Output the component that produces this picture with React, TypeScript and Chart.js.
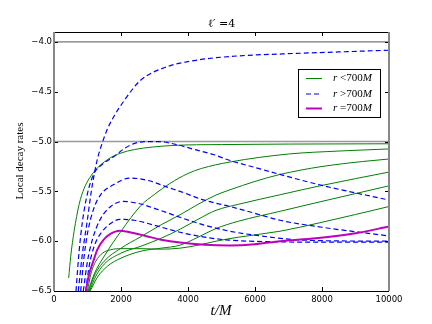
import React, { useEffect, useRef } from "react";
import { Chart, registerables } from "chart.js";

Chart.register(...registerables);

// ---- data ----
const xTicks = [0, 2000, 4000, 6000, 8000, 10000];
const yTicks = [-6.5, -6.0, -5.5, -5.0, -4.5, -4.0];
const refLevels = [-4.0, -5.0];
const legendLabels = ["r <700M", "r >700M", "r =700M"];

// r < 700M (solid green)
const g1T = [438, 500, 600, 750, 900, 1180, 1600, 2000, 2400, 3500, 5000, 7000, 10000];
const g1V = [-6.37, -6.15, -5.9, -5.63, -5.47, -5.31, -5.18, -5.115, -5.08, -5.04, -5.03, -5.025, -5.022];
const g2T = [1020, 1200, 1500, 2000, 2600, 3000, 3463, 4000, 4400, 5254, 7000, 8500, 10000];
const g2V = [-6.5, -6.33, -6.15, -5.9, -5.64, -5.53, -5.42, -5.32, -5.27, -5.205, -5.125, -5.095, -5.074];
const g3T = [1040, 1200, 1500, 2000, 2567, 3200, 3761, 4300, 4836, 5254, 6000, 6746, 8000, 9214, 10000];
const g3V = [-6.5, -6.35, -6.2, -6.07, -5.96, -5.835, -5.735, -5.63, -5.537, -5.484, -5.4, -5.33, -5.25, -5.2, -5.175];
const g4T = [1060, 1250, 1500, 2000, 2600, 3200, 3761, 4300, 4836, 5500, 6746, 8000, 10000];
const g4V = [-6.5, -6.35, -6.23, -6.12, -6.05, -5.97, -5.88, -5.78, -5.69, -5.63, -5.534, -5.44, -5.306];
const g5T = [1080, 1300, 1600, 2000, 2600, 3200, 3761, 4300, 4836, 5500, 6746, 8000, 10000];
const g5V = [-6.5, -6.36, -6.25, -6.17, -6.1, -6.07, -6.04, -5.96, -5.873, -5.8, -5.7, -5.6, -5.444];
const g6T = [1000, 1100, 1250, 1450, 1700, 2000, 2600, 3200, 3761, 4300, 4836, 5500, 6746, 8000, 10000];
const g6V = [-6.5, -6.33, -6.2, -6.12, -6.085, -6.075, -6.075, -6.08, -6.07, -6.04, -6.0, -5.96, -5.9, -5.81, -5.652];

// r > 700M (dashed blue)
const b1T = [725, 850, 995, 1100, 1200, 1300, 1424, 1600, 1800, 2070, 2567, 3364, 4358, 5500, 6826, 8500, 10000];
const b1V = [-6.5, -6.12, -5.79, -5.53, -5.33, -5.17, -5.03, -4.87, -4.74, -4.6, -4.39, -4.25, -4.178, -4.14, -4.12, -4.1, -4.083];
const b2T = [657, 750, 850, 1000, 1194, 1400, 1791, 2100, 2388, 2750, 3100, 3662, 4200, 4756, 5254, 6000, 6746, 8000, 10000];
const b2V = [-6.5, -6.1, -5.8, -5.52, -5.32, -5.24, -5.15, -5.07, -5.02, -5.0, -5.0, -5.03, -5.08, -5.13, -5.19, -5.26, -5.33, -5.44, -5.587];
const b3T = [797, 900, 1000, 1174, 1400, 1771, 2269, 2800, 3463, 3761, 4458, 5254, 6000, 6746, 8000, 10000];
const b3V = [-6.5, -6.15, -5.92, -5.685, -5.53, -5.434, -5.366, -5.39, -5.467, -5.5, -5.585, -5.652, -5.72, -5.79, -5.86, -5.947];
const b4T = [875, 1000, 1150, 1373, 1700, 2070, 2500, 3000, 3761, 4500, 5254, 6000, 7500, 10000];
const b4V = [-6.5, -6.2, -5.98, -5.786, -5.65, -5.6, -5.62, -5.67, -5.76, -5.84, -5.9, -5.94, -5.99, -6.0];
const b5T = [946, 1050, 1200, 1400, 1700, 1970, 2400, 3000, 3761, 4500, 5254, 6500, 8000, 10000];
const b5V = [-6.5, -6.25, -6.05, -5.92, -5.82, -5.78, -5.79, -5.84, -5.91, -5.96, -5.99, -6.005, -6.01, -6.01];

// r = 700M (magenta)
const mT = [950, 1050, 1174, 1300, 1472, 1672, 1970, 2400, 2767, 3200, 3761, 4500, 5254, 6000, 6746, 7821, 9000, 10000];
const mV = [-6.5, -6.33, -6.2, -6.08, -5.99, -5.93, -5.896, -5.92, -5.95, -5.985, -6.014, -6.035, -6.042, -6.03, -6.0, -5.97, -5.92, -5.853];

const GREEN = "#008000";
const BLUE = "#0000ff";
const MAGENTA = "#bf00bf";
const DASH = [5, 3];

const pts = (t: number[], v: number[]) => t.map((x, i) => ({ x, y: v[i] }));

const fmt = (v: number) => (v < 0 ? "\u2212" : "") + Math.abs(v).toFixed(1);

const decorPlugin = {
  id: "decor",
  afterDatasetsDraw(chart: any) {
    const { ctx, chartArea } = chart;
    const { left, right, top, bottom } = chartArea;
    const xs = chart.scales.x;
    const ys = chart.scales.y;
    ctx.save();
    // tick marks (inward)
    ctx.strokeStyle = "#000";
    ctx.lineWidth = 1;
    ctx.beginPath();
    xTicks.forEach((t) => {
      const px = Math.round(xs.getPixelForValue(t)) + 0.5;
      ctx.moveTo(px, top);
      ctx.lineTo(px, top + 4);
      ctx.moveTo(px, bottom);
      ctx.lineTo(px, bottom - 4);
    });
    yTicks.forEach((v) => {
      const py = Math.round(ys.getPixelForValue(v)) + 0.5;
      ctx.moveTo(left, py);
      ctx.lineTo(left + 4, py);
      ctx.moveTo(right, py);
      ctx.lineTo(right - 4, py);
    });
    ctx.stroke();
    // spines
    ctx.strokeStyle = "#000";
    ctx.lineWidth = 1;
    ctx.beginPath();
    ctx.moveTo(left, Math.round(top) + 0.5);
    ctx.lineTo(right, Math.round(top) + 0.5);
    ctx.moveTo(left, Math.round(bottom) + 0.5);
    ctx.lineTo(right, Math.round(bottom) + 0.5);
    ctx.stroke();
    ctx.strokeStyle = "#888";
    ctx.lineWidth = 2;
    ctx.beginPath();
    ctx.moveTo(Math.round(left), top);
    ctx.lineTo(Math.round(left), bottom);
    ctx.moveTo(Math.round(right), top);
    ctx.lineTo(Math.round(right), bottom);
    ctx.stroke();

    // title
    ctx.fillStyle = "#000";
    ctx.textAlign = "center";
    ctx.textBaseline = "middle";
    ctx.font = "11px 'DejaVu Serif'";
    ctx.fillText("\u2113\u2032 =4", (left + right) / 2, 24);
    // x title
    ctx.font = "italic 15px 'Liberation Serif'";
    ctx.fillText("t/M", 221, 311);
    // y title
    ctx.save();
    ctx.translate(20, 161);
    ctx.rotate(-Math.PI / 2);
    ctx.font = "11px 'Liberation Serif'";
    ctx.fillText("Local decay rates", 0, 0);
    ctx.restore();

    // legend
    const bx = 298.5, by = 69.5, bw = 82, bh = 48;
    ctx.fillStyle = "#fff";
    ctx.fillRect(bx, by, bw, bh);
    ctx.strokeStyle = "#000";
    ctx.lineWidth = 1;
    ctx.strokeRect(bx, by, bw, bh);
    const rows = [78.5, 94, 108.5];
    const styles = [
      { c: GREEN, w: 1, d: [] as number[] },
      { c: BLUE, w: 1.2, d: DASH },
      { c: MAGENTA, w: 2, d: [] as number[] },
    ];
    rows.forEach((ry, i) => {
      ctx.strokeStyle = styles[i].c;
      ctx.lineWidth = styles[i].w;
      ctx.setLineDash(styles[i].d);
      ctx.beginPath();
      ctx.moveTo(306, ry);
      ctx.lineTo(322, ry);
      ctx.stroke();
      ctx.setLineDash([]);
      ctx.fillStyle = "#000";
      ctx.textAlign = "left";
      ctx.textBaseline = "middle";
      const lab = legendLabels[i];
      const parts = [lab.slice(0, 1), " " + lab.slice(2, lab.length - 1), lab.slice(-1)];
      let x = 333;
      ctx.font = "italic 11px 'Liberation Serif'";
      ctx.fillText(parts[0], x, ry);
      x += ctx.measureText(parts[0]).width;
      ctx.font = "11px 'Liberation Serif'";
      ctx.fillText(parts[1], x, ry);
      x += ctx.measureText(parts[1]).width;
      ctx.font = "italic 11px 'Liberation Serif'";
      ctx.fillText(parts[2], x, ry);
    });
    ctx.restore();
  },
};

export default function App() {
  const ref = useRef<HTMLCanvasElement | null>(null);
  useEffect(() => {
    document.body.style.margin = "0";
    const canvas = ref.current;
    if (!canvas) return;
    const line = (t: number[], v: number[], color: string, width: number, dash: number[], order: number) => ({
      data: pts(t, v),
      borderColor: color,
      backgroundColor: color,
      borderWidth: width,
      borderDash: dash,
      pointRadius: 0,
      showLine: true,
      fill: false,
      cubicInterpolationMode: "monotone" as const,
      order,
    });
    const datasets: any[] = [];
    refLevels.forEach((lv, i) =>
      datasets.push(line([0, 10000], [lv, lv], i === 0 ? "#777" : "#999", i === 0 ? 1.2 : 1.5, [], 10))
    );
    [[g1T, g1V], [g2T, g2V], [g3T, g3V], [g4T, g4V], [g5T, g5V], [g6T, g6V]].forEach(([t, v]) =>
      datasets.push(line(t, v, GREEN, 1, [], 5))
    );
    [[b1T, b1V], [b2T, b2V], [b3T, b3V], [b4T, b4V], [b5T, b5V]].forEach(([t, v]) =>
      datasets.push(line(t, v, BLUE, 1.2, DASH, 3))
    );
    datasets.push(line(mT, mV, MAGENTA, 2, [], 1));

    const chart = new Chart(canvas, {
      type: "scatter",
      data: { datasets },
      options: {
        animation: false,
        responsive: false,
        maintainAspectRatio: false,
        layout: { padding: { top: 32, right: 43, left: 0, bottom: 0 } },
        plugins: { legend: { display: false }, title: { display: false }, tooltip: { enabled: false } },
        scales: {
          x: {
            type: "linear",
            min: 0,
            max: 10000,
            grid: { display: false, drawTicks: false },
            border: { display: false },
            afterBuildTicks: (s: any) => {
              s.ticks = xTicks.map((value) => ({ value }));
            },
            afterFit: (s: any) => {
              s.height = 33;
            },
            ticks: {
              color: "#000",
              padding: 4,
              maxRotation: 0,
              font: { family: "'DejaVu Sans'", size: 8.5 },
              callback: (v: any) => String(v),
            },
          },
          y: {
            type: "linear",
            min: -6.5,
            max: -3.9,
            grid: { display: false, drawTicks: false },
            border: { display: false },
            afterBuildTicks: (s: any) => {
              s.ticks = yTicks.map((value) => ({ value }));
            },
            afterFit: (s: any) => {
              s.width = 54;
            },
            ticks: {
              color: "#000",
              padding: 2,
              font: { family: "'DejaVu Sans'", size: 8.5 },
              callback: (v: any) => fmt(Number(v)),
            },
          },
        },
      },
      plugins: [decorPlugin],
    });
    return () => chart.destroy();
  }, []);
  return (
    <div style={{ width: 432, height: 324 }}>
      <canvas ref={ref} width={432} height={324} />
    </div>
  );
}
